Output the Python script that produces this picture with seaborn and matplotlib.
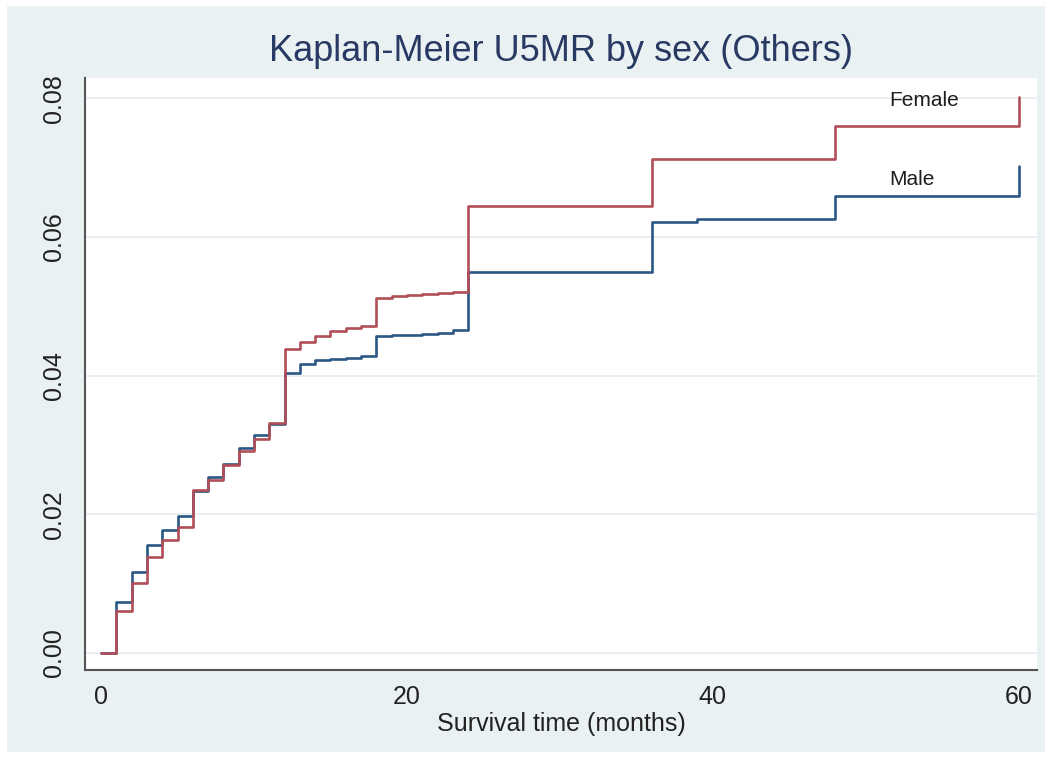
import pandas as pd
import matplotlib
matplotlib.use("Agg")
import matplotlib.pyplot as plt
from matplotlib.patches import Rectangle
import seaborn as sns

# Kaplan-Meier failure estimates (U5MR)
months = [0, 1, 2, 3, 4, 5, 6, 7, 8, 9, 10, 11, 12, 13, 14, 15, 16, 17,
          18, 19, 20, 21, 22, 23, 24, 36, 39, 48, 60]
male = [0.0, 0.0074, 0.0117, 0.0156, 0.0178, 0.0197, 0.0234, 0.0254, 0.0273,
        0.0295, 0.0314, 0.0330, 0.0403, 0.0416, 0.0422, 0.0424, 0.0426, 0.0428,
        0.0457, 0.0458, 0.0459, 0.0460, 0.0461, 0.0465, 0.0549, 0.0622, 0.0625,
        0.0659, 0.0702]
female = [0.0, 0.0060, 0.0101, 0.0139, 0.0163, 0.0182, 0.0235, 0.0249, 0.0271,
          0.0291, 0.0309, 0.0331, 0.0438, 0.0448, 0.0457, 0.0464, 0.0468, 0.0471,
          0.0512, 0.0515, 0.0516, 0.0518, 0.0519, 0.0521, 0.0644, 0.0712, 0.0712,
          0.0760, 0.0801]
sexes = ["Male", "Female"]
x_ticks = [0, 20, 40, 60]
y_ticks = [0.00, 0.02, 0.04, 0.06, 0.08]

df = pd.concat([
    pd.DataFrame({"time": months, "rate": male, "sex": "Male"}),
    pd.DataFrame({"time": months, "rate": female, "sex": "Female"}),
])

sns.set_style("white")
plt.rcParams["font.family"] = ["Liberation Sans", "DejaVu Sans"]

W, H = 1051, 767
fig = plt.figure(figsize=(W / 100, H / 100), dpi=100, facecolor="white")
# Stata-like graph region
fig.add_artist(Rectangle((7 / W, 1 - 752 / H), (1045 - 7) / W, (752 - 6) / H,
                         transform=fig.transFigure, facecolor="#EAF1F3",
                         edgecolor="none", zorder=-5))
ax = fig.add_axes([85 / W, 1 - 670 / H, (1037 - 85) / W, (670 - 78) / H])
ax.set_facecolor("white")

palette = {"Male": "#2a5784", "Female": "#b24e57"}
sns.lineplot(data=df, x="time", y="rate", hue="sex", hue_order=sexes,
             palette=palette, drawstyle="steps-post", linewidth=1.9,
             estimator=None, legend=False, ax=ax)

ax.set_xlim(-1.05, 61.2)
ax.set_ylim(-0.00245, 0.0829)
ax.set_xticks(x_ticks)
ax.set_yticks(y_ticks)
ax.set_yticklabels([f"{v:.2f}" for v in y_ticks], rotation=90, va="center")
for y in y_ticks:
    ax.axhline(y, color="#E4EDF0", linewidth=1.2, zorder=0)

for s in ["top", "right"]:
    ax.spines[s].set_visible(False)
for s in ["left", "bottom"]:
    ax.spines[s].set_color("#555555")
    ax.spines[s].set_linewidth(1.5)

ax.tick_params(axis="both", direction="out", length=6, width=1.3,
               color="#444444", labelsize=18, labelcolor="#222222")
ax.tick_params(axis="y", pad=8)
ax.tick_params(axis="x", pad=5)

ax.set_xlabel("Survival time (months)", fontsize=18, color="#222222", labelpad=2)
ax.set_ylabel("")
ax.set_title("Kaplan-Meier U5MR by sex (Others)", fontsize=26, color="#283a63", pad=12)

ax.text(53.8, 0.0797, "Female", fontsize=15, color="#1e1e1e", ha="center", va="center")
ax.text(53.0, 0.0683, "Male", fontsize=15, color="#1e1e1e", ha="center", va="center")

fig.savefig("out.png", dpi=100, facecolor="white")
